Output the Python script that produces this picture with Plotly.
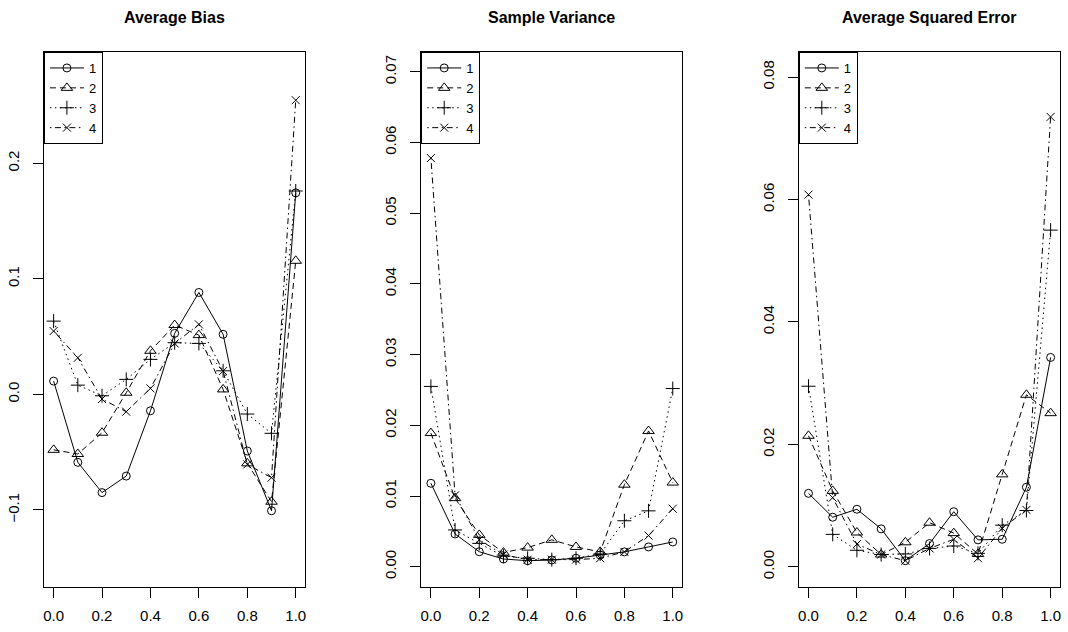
import plotly.graph_objects as go

# Evaluation grid shared by all three panels
x_grid = [0.0, 0.1, 0.2, 0.3, 0.4, 0.5, 0.6, 0.7, 0.8, 0.9, 1.0]
method_names = ["1", "2", "3", "4"]

# Average bias per method
bias_1 = [0.0115, -0.0588, -0.085, -0.0707, -0.0142, 0.0528, 0.0882, 0.052, -0.049, -0.1007, 0.1744]
bias_2 = [-0.048, -0.0516, -0.0332, 0.0014, 0.0377, 0.060, 0.0513, 0.0043, -0.0597, -0.0929, 0.1156]
bias_3 = [0.0634, 0.008, -0.0012, 0.013, 0.0303, 0.0447, 0.0441, 0.0204, -0.017, -0.0337, 0.176]
bias_4 = [0.0548, 0.0317, -0.004, -0.015, 0.0052, 0.0441, 0.0606, 0.0202, -0.0606, -0.0721, 0.2546]

# Sample variance per method
var_1 = [0.0118, 0.00463, 0.00212, 0.00109, 0.00085, 0.00095, 0.0012, 0.00165, 0.0021, 0.0028, 0.0035]
var_2 = [0.0189, 0.0097, 0.0045, 0.0020, 0.0027, 0.0038, 0.0028, 0.0021, 0.0116, 0.0192, 0.0119]
var_3 = [0.0255, 0.0052, 0.0033, 0.0015, 0.0012, 0.0010, 0.0012, 0.0018, 0.0065, 0.0079, 0.0252]
var_4 = [0.0578, 0.0101, 0.0038, 0.0017, 0.0010, 0.0010, 0.0010, 0.0012, 0.0021, 0.0044, 0.0082]

# Average squared error per method
ase_1 = [0.0120, 0.0081, 0.0094, 0.0062, 0.0010, 0.0038, 0.0090, 0.0044, 0.0045, 0.0130, 0.0342]
ase_2 = [0.0214, 0.0124, 0.0056, 0.0020, 0.0040, 0.0072, 0.0055, 0.0021, 0.0151, 0.0281, 0.0251]
ase_3 = [0.0295, 0.0053, 0.0027, 0.0020, 0.0021, 0.0030, 0.0034, 0.0022, 0.0068, 0.0092, 0.0550]
ase_4 = [0.0608, 0.0113, 0.0037, 0.0020, 0.0010, 0.0030, 0.0045, 0.0014, 0.0063, 0.0093, 0.0735]

panel_titles = ["Average Bias", "Sample Variance", "Average Squared Error"]
panel_series = [
    [bias_1, bias_2, bias_3, bias_4],
    [var_1, var_2, var_3, var_4],
    [ase_1, ase_2, ase_3, ase_4],
]
y_ranges = [[-0.1667, 0.2963], [-0.00287, 0.0728], [-0.0033, 0.0841]]
y_ticks = [
    [-0.1, 0.0, 0.1, 0.2],
    [0.0, 0.01, 0.02, 0.03, 0.04, 0.05, 0.06, 0.07],
    [0.0, 0.02, 0.04, 0.06, 0.08],
]
y_formats = [".1f", ".2f", ".2f"]
x_ticks = [0.0, 0.2, 0.4, 0.6, 0.8, 1.0]

# Line type / plotting symbol per method (R style lty 1..4, pch 1..4)
dashes = ["solid", "6px,4px", "1.5px,3.5px", "1.5px,3.5px,6px,3.5px"]
symbols = ["circle-open", "triangle-up-open", "cross-thin-open", "x-thin-open"]
sizes = [8, 10, 10, 8]

W, H = 1068, 632
box_x = [(43, 305), (421, 682.7), (799.3, 1061.3)]
box_y = (52, 587)
y_dom = [1 - box_y[1] / H, 1 - box_y[0] / H]

FONT = "Liberation Sans, Arial, Helvetica, sans-serif"

fig = go.Figure()
layout = dict(
    width=W, height=H,
    margin=dict(l=0, r=0, t=0, b=0),
    paper_bgcolor="white", plot_bgcolor="white",
    font=dict(family=FONT, color="black", size=15),
    annotations=[],
)

for p in range(3):
    sfx = "" if p == 0 else str(p + 1)
    legend_name = "legend" if p == 0 else f"legend{p + 1}"
    for k, ys in enumerate(panel_series[p]):
        fig.add_trace(go.Scatter(
            x=x_grid, y=ys, mode="lines+markers",
            name=method_names[k],
            xaxis="x" + sfx, yaxis="y" + sfx,
            line=dict(color="black", width=1, dash=dashes[k]),
            marker=dict(symbol=symbols[k], size=sizes[k], color="black",
                        line=dict(color="black", width=1)),
            legend=legend_name,
            hoverinfo="skip",
        ))
    x0, x1 = box_x[p]
    layout["xaxis" + sfx] = dict(
        domain=[x0 / W, x1 / W], range=[-0.04, 1.04],
        anchor="y" + sfx,
        tickvals=x_ticks, tickformat=".1f",
        ticks="outside", ticklen=10, tickwidth=1, tickcolor="black",
        ticklabelstandoff=5,
        showline=True, linecolor="black", linewidth=1, mirror=True,
        showgrid=False, zeroline=False,
        tickfont=dict(size=15),
    )
    layout["yaxis" + sfx] = dict(
        domain=y_dom, range=y_ranges[p],
        anchor="x" + sfx,
        tickvals=y_ticks[p], tickformat=y_formats[p], tickangle=-90,
        ticks="outside", ticklen=10, tickwidth=1, tickcolor="black",
        ticklabelstandoff=8,
        showline=True, linecolor="black", linewidth=1, mirror=True,
        showgrid=False, zeroline=False,
        tickfont=dict(size=15),
    )
    layout[legend_name] = dict(
        x=x0 / W, y=y_dom[1], xanchor="left", yanchor="top",
        bordercolor="black", borderwidth=1, bgcolor="white",
        font=dict(size=13, family=FONT), itemclick=False, itemdoubleclick=False,
        tracegroupgap=0, itemwidth=34,
    )
    layout["annotations"].append(dict(
        text="<b>" + panel_titles[p] + "</b>",
        x=(x0 + x1) / 2 / W, y=1 - 17 / H, xref="paper", yref="paper",
        xanchor="center", yanchor="middle", showarrow=False,
        font=dict(size=16, family=FONT),
    ))

fig.update_layout(**layout)
fig.write_html("out.html")
